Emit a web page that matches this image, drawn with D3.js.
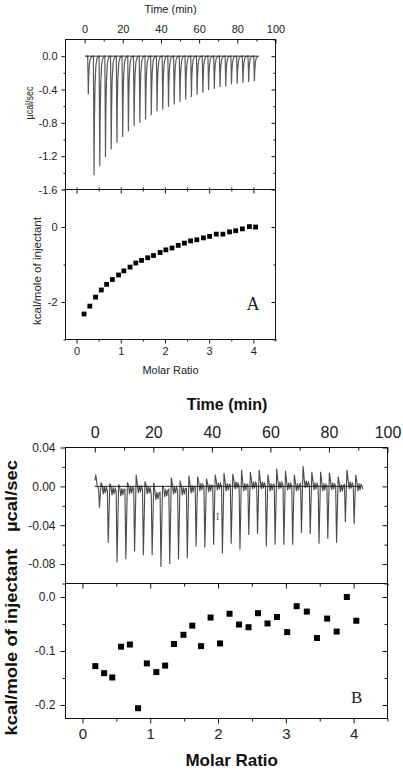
<!DOCTYPE html>
<html>
<head>
<meta charset="utf-8">
<script src="https://cdn.jsdelivr.net/npm/d3@7/dist/d3.min.js"></script>
<style>
  html, body { margin: 0; padding: 0; background: #fff; }
  svg { display: block; }
</style>
</head>
<body>
<script>
// ---------------- DATA ----------------
// Panel A – raw thermogram (injection times in min, peak depth in µcal/sec)
const aTimes = [1.6, 4.6, 7.6, 10.6, 13.6, 16.6, 19.6, 22.6, 25.6, 28.6, 31.6, 34.6, 37.6, 40.6, 43.6,
                46.6, 49.6, 52.6, 55.6, 58.6, 61.6, 64.6, 67.6, 70.6, 73.6, 76.6, 79.6, 82.6, 85.6, 88.6];
const aDepths = [-0.46, -1.43, -1.32, -1.21, -1.12, -1.04, -0.97, -0.90, -0.84, -0.80, -0.76, -0.71, -0.66, -0.64, -0.61,
                 -0.58, -0.55, -0.52, -0.49, -0.46, -0.44, -0.41, -0.39, -0.37, -0.36, -0.34, -0.33, -0.32, -0.31, -0.30];
// shape of one injection peak: [minutes after injection, fraction of depth]
const aPeakShape = [[0, 0], [0.2, 0.5], [0.35, 1], [0.55, 0.55], [0.85, 0.25], [1.3, 0.08], [1.9, 0.02], [2.7, 0]];
const aBaseline = [0.4, 91];

// Panel A – integrated heats
const aRatio = [0.17, 0.30, 0.43, 0.56, 0.68, 0.81, 0.95, 1.07, 1.21, 1.34, 1.47, 1.61, 1.74, 1.89, 2.02,
                2.16, 2.30, 2.44, 2.58, 2.72, 2.87, 3.01, 3.16, 3.31, 3.46, 3.60, 3.75, 3.91, 4.05];
const aHeat = [-2.32, -2.11, -1.87, -1.68, -1.53, -1.40, -1.28, -1.17, -1.07, -0.96, -0.89, -0.82, -0.76, -0.68, -0.61,
               -0.56, -0.49, -0.43, -0.37, -0.34, -0.29, -0.25, -0.19, -0.19, -0.13, -0.10, -0.05, 0.01, 0.00];

// Panel B – raw thermogram
const bTimes = [1.3, 4.3, 7.3, 10.3, 13.3, 16.3, 19.3, 22.3, 25.3, 28.3, 31.3, 34.3, 37.3, 40.3, 43.3,
                46.3, 49.3, 52.3, 55.3, 58.3, 61.3, 64.3, 67.3, 70.3, 73.3, 76.3, 79.3, 82.3, 85.3, 88.3];
const bDepth = [-0.022, -0.058, -0.078, -0.075, -0.067, -0.071, -0.071, -0.083, -0.080, -0.075, -0.074, -0.062, -0.063, -0.060, -0.069,
                -0.059, -0.065, -0.050, -0.049, -0.062, -0.060, -0.060, -0.060, -0.048, -0.049, -0.059, -0.054, -0.058, -0.037, -0.039];
const bPeak = [0.004, 0.003, 0.002, 0.004, 0.012, 0.005, 0.004, 0.000, 0.009, 0.006, 0.011, 0.010, 0.008, 0.012, 0.014,
               0.013, 0.017, 0.015, 0.017, 0.012, 0.018, 0.016, 0.012, 0.021, 0.015, 0.015, 0.014, 0.010, 0.017, 0.012];
const bLevel = [-0.003, -0.004, -0.005, -0.003, -0.002, -0.003, -0.009, -0.006, -0.003, -0.004, -0.002, 0.000, -0.001, 0.001, 0.000,
                0.002, 0.000, 0.002, 0.002, 0.000, 0.002, 0.001, 0.000, 0.003, 0.001, 0.000, 0.001, -0.001, 0.002, 0.000];
const bWiggle = [0.004, -0.005, 0.003, -0.004, 0.002];
const bLead = [[0.0, 0.006], [0.35, 0.012], [0.8, 0.001]];
const bTail = [[91.2, 0.001], [91.6, -0.003]];
const bBaseline = [0, 91];

// Panel B – integrated heats
const bRatio = [0.19, 0.32, 0.44, 0.57, 0.70, 0.82, 0.95, 1.09, 1.22, 1.35, 1.49, 1.62, 1.75, 1.89, 2.03,
                2.17, 2.31, 2.45, 2.59, 2.73, 2.87, 3.02, 3.16, 3.31, 3.46, 3.61, 3.75, 3.90, 4.04];
const bHeat = [-0.128, -0.141, -0.149, -0.092, -0.088, -0.206, -0.123, -0.139, -0.127, -0.087, -0.070, -0.053, -0.091, -0.038, -0.086,
               -0.031, -0.051, -0.056, -0.030, -0.049, -0.037, -0.065, -0.017, -0.027, -0.076, -0.040, -0.064, 0.000, -0.044];

// tick values
const timeTicks = [0, 20, 40, 60, 80, 100];
const timeMinor = [10, 30, 50, 70, 90];
const ratioTicks = [0, 1, 2, 3, 4];
const ratioMinor = [0.5, 1.5, 2.5, 3.5, 4.5];
const aRawTicks = [0.0, -0.4, -0.8, -1.2, -1.6];
const aRawMinor = [0.2, -0.2, -0.6, -1.0, -1.4];
const aHeatTicks = [0, -2];
const aHeatMinor = [1, -1, -3];
const bRawTicks = [0.04, 0.00, -0.04, -0.08];
const bRawMinor = [0.02, -0.02, -0.06, -0.10];
const bHeatTicks = [0.0, -0.1, -0.2];
const bHeatMinor = [-0.05, -0.15];

// ---------------- DRAWING ----------------
const FONT = "'Liberation Sans', Arial, Helvetica, sans-serif";
const SERIF = "'Liberation Serif', 'Times New Roman', serif";
const svg = d3.select("body").append("svg").attr("width", 403).attr("height", 773);
svg.append("rect").attr("width", 403).attr("height", 773).attr("fill", "#fff");

// scales
const xTA = d3.scaleLinear().domain([-10, 100]).range([65.5, 275.5]);
const yRA = d3.scaleLinear().domain([-1.6, 0.2]).range([189.5, 39.5]);
const xMA = d3.scaleLinear().domain([-0.25, 4.5]).range([65.5, 275.5]);
const yHA = d3.scaleLinear().domain([-3, 1]).range([339.5, 189.5]);

const xTB = d3.scaleLinear().domain([-10, 100]).range([65.5, 387.5]);
const yRB = d3.scaleLinear().domain([-0.1, 0.04]).range([583.5, 447.5]);
const xMB = d3.scaleLinear().domain([-0.25, 4.5]).range([65.5, 387.5]);
const yHB = d3.scaleLinear().domain([-0.225, 0.025]).range([718.5, 583.5]);

function drawAxis(gen, tx, ty, vals, size, fmt, fs, pad, bold) {
  gen.tickValues(vals).tickSizeInner(size).tickSizeOuter(0).tickPadding(pad).tickFormat(fmt || (() => ""));
  const g = svg.append("g").attr("transform", `translate(${tx},${ty})`).call(gen);
  g.select(".domain").remove();
  g.selectAll("line").attr("stroke", "#111").attr("stroke-width", 1);
  g.selectAll("text").attr("font-family", FONT).attr("font-size", fs || 10).attr("fill", "#222")
    .attr("font-weight", bold ? "bold" : null);
  return g;
}

// ---------- Panel A ----------
drawAxis(d3.axisTop(xTA), 0, yRA.range()[1], timeTicks, -4, d => d, 11, 7);
drawAxis(d3.axisTop(xTA), 0, yRA.range()[1], timeMinor, -2);
drawAxis(d3.axisLeft(yRA), xTA.range()[0], 0, aRawTicks, 4, d => d.toFixed(1), 11, 4);
drawAxis(d3.axisLeft(yRA), xTA.range()[0], 0, aRawMinor.filter(v => v > -1.6 && v < 0.2), 2);
drawAxis(d3.axisRight(yRA), xTA.range()[1], 0, aRawTicks, -4);
drawAxis(d3.axisRight(yRA), xTA.range()[1], 0, aRawMinor, -2);
drawAxis(d3.axisTop(xMA), 0, yHA.range()[1], ratioTicks, -4);
drawAxis(d3.axisTop(xMA), 0, yHA.range()[1], ratioMinor.slice(0, 4), -2);
drawAxis(d3.axisBottom(xMA), 0, yHA.range()[1], ratioTicks.concat(ratioMinor.slice(0, 4)), -2);
drawAxis(d3.axisLeft(yHA), xMA.range()[0], 0, aHeatTicks, 4, d => d.toFixed(0), 11, 4);
drawAxis(d3.axisLeft(yHA), xMA.range()[0], 0, aHeatMinor, 2);
drawAxis(d3.axisRight(yHA), xMA.range()[1], 0, aHeatTicks, -4);
drawAxis(d3.axisRight(yHA), xMA.range()[1], 0, aHeatMinor, -2);
drawAxis(d3.axisBottom(xMA), 0, yHA.range()[0], ratioTicks, 4, d => d, 11, 4);
drawAxis(d3.axisBottom(xMA), 0, yHA.range()[0], ratioMinor, 2);

svg.append("rect").attr("x", 65.5).attr("y", 39.5).attr("width", 210).attr("height", 150)
  .attr("fill", "none").attr("stroke", "#111");
svg.append("rect").attr("x", 65.5).attr("y", 189.5).attr("width", 210).attr("height", 150)
  .attr("fill", "none").attr("stroke", "#111");

// raw trace A
const aTrace = [[aBaseline[0], 0]];
aTimes.forEach((t, i) => aPeakShape.forEach(([dt, f]) => aTrace.push([t + dt, aDepths[i] * f])));
aTrace.push([aBaseline[1], 0]);
svg.append("path").datum(aTrace)
  .attr("d", d3.line().x(d => xTA(d[0])).y(d => yRA(d[1])))
  .attr("fill", "none").attr("stroke", "#5a5a5a").attr("stroke-width", 1.2);
svg.append("line").attr("x1", xTA(aBaseline[0])).attr("x2", xTA(aBaseline[1]))
  .attr("y1", yRA(0)).attr("y2", yRA(0)).attr("stroke", "#333").attr("stroke-width", 1);

// heats A
svg.append("g").selectAll("rect").data(aRatio).join("rect")
  .attr("x", (d) => xMA(d) - 2.4).attr("y", (d, i) => yHA(aHeat[i]) - 2.4)
  .attr("width", 4.8).attr("height", 4.8).attr("fill", "#000");

// labels A
svg.append("text").attr("x", 170.5).attr("y", 8.5).attr("text-anchor", "middle").attr("dominant-baseline", "central")
  .attr("font-family", FONT).attr("font-size", 11).attr("fill", "#222").text("Time (min)");
svg.append("text").attr("x", 170.5).attr("y", 370).attr("text-anchor", "middle").attr("dominant-baseline", "central")
  .attr("font-family", FONT).attr("font-size", 11).attr("fill", "#222").text("Molar Ratio");
svg.append("text").attr("transform", "translate(29,103) rotate(-90)").attr("text-anchor", "middle")
  .attr("dominant-baseline", "central").attr("font-family", FONT).attr("font-size", 11).attr("fill", "#222")
  .attr("textLength", 33).attr("lengthAdjust", "spacingAndGlyphs").text("µcal/sec");
svg.append("text").attr("transform", "translate(37,271) rotate(-90)").attr("text-anchor", "middle")
  .attr("dominant-baseline", "central").attr("font-family", FONT).attr("font-size", 11).attr("fill", "#222")
  .attr("textLength", 108).attr("lengthAdjust", "spacingAndGlyphs").text("kcal/mole of injectant");
svg.append("text").attr("x", 253).attr("y", 310).attr("text-anchor", "middle")
  .attr("font-family", SERIF).attr("font-size", 18).attr("fill", "#222").text("A");

// ---------- Panel B ----------
drawAxis(d3.axisTop(xTB), 0, yRB.range()[1], timeTicks, -5, d => d, 16, 10);
drawAxis(d3.axisTop(xTB), 0, yRB.range()[1], timeMinor, -3);
drawAxis(d3.axisLeft(yRB), xTB.range()[0], 0, bRawTicks, 5, d => d.toFixed(2), 12, 5);
drawAxis(d3.axisLeft(yRB), xTB.range()[0], 0, bRawMinor, 3);
drawAxis(d3.axisRight(yRB), xTB.range()[1], 0, bRawTicks, -5);
drawAxis(d3.axisRight(yRB), xTB.range()[1], 0, bRawMinor, -3);
drawAxis(d3.axisTop(xMB), 0, yHB.range()[1], ratioTicks, -5);
drawAxis(d3.axisTop(xMB), 0, yHB.range()[1], ratioMinor, -3);
drawAxis(d3.axisLeft(yHB), xMB.range()[0], 0, bHeatTicks, 5, d => d.toFixed(1), 12, 5);
drawAxis(d3.axisLeft(yHB), xMB.range()[0], 0, bHeatMinor, 3);
drawAxis(d3.axisRight(yHB), xMB.range()[1], 0, bHeatTicks, -5);
drawAxis(d3.axisRight(yHB), xMB.range()[1], 0, bHeatMinor, -3);
drawAxis(d3.axisBottom(xMB), 0, yHB.range()[0], ratioTicks, 5, d => d, 15, 5);
drawAxis(d3.axisBottom(xMB), 0, yHB.range()[0], ratioMinor, 3);

svg.append("rect").attr("x", 65.5).attr("y", 447.5).attr("width", 322).attr("height", 136)
  .attr("fill", "none").attr("stroke", "#111");
svg.append("rect").attr("x", 65.5).attr("y", 583.5).attr("width", 322).attr("height", 135)
  .attr("fill", "none").attr("stroke", "#111");

// raw trace B
const bOffsets = [0.3, 0.85, 1.25, 1.6, 1.95, 2.3, 2.65];
const bTrace = bLead.slice();
bTimes.forEach((t, i) => {
  bTrace.push([t, bLevel[i]]);
  bTrace.push([t + bOffsets[0], bDepth[i]]);
  bTrace.push([t + bOffsets[1], bPeak[i]]);
  bWiggle.forEach((w, k) => bTrace.push([t + bOffsets[k + 2], bLevel[i] + w]));
});
bTail.forEach(p => bTrace.push(p));
svg.append("path").datum(bTrace)
  .attr("d", d3.line().x(d => xTB(d[0])).y(d => yRB(d[1])))
  .attr("fill", "none").attr("stroke", "#4a4a4a").attr("stroke-width", 1.1);
svg.append("line").attr("x1", xTB(bBaseline[0])).attr("x2", xTB(bBaseline[1]))
  .attr("y1", yRB(0)).attr("y2", yRB(0)).attr("stroke", "#222").attr("stroke-width", 1);
svg.append("text").attr("x", 217.7).attr("y", 520).attr("text-anchor", "middle")
  .attr("font-family", SERIF).attr("font-size", 11).attr("fill", "#666").text("I");

// heats B
svg.append("g").selectAll("rect").data(bRatio).join("rect")
  .attr("x", d => xMB(d) - 3).attr("y", (d, i) => yHB(bHeat[i]) - 3)
  .attr("width", 6).attr("height", 6).attr("fill", "#000");

// labels B
svg.append("text").attr("x", 227).attr("y", 404).attr("text-anchor", "middle").attr("dominant-baseline", "central")
  .attr("font-family", FONT).attr("font-weight", "bold").attr("font-size", 16).attr("fill", "#111").text("Time (min)");
svg.append("text").attr("x", 231.7).attr("y", 760).attr("text-anchor", "middle").attr("dominant-baseline", "central")
  .attr("font-family", FONT).attr("font-weight", "bold").attr("font-size", 17).attr("fill", "#111").text("Molar Ratio");
svg.append("text").attr("transform", "translate(11,496) rotate(-90)").attr("text-anchor", "middle")
  .attr("dominant-baseline", "central").attr("font-family", FONT).attr("font-weight", "bold").attr("font-size", 16)
  .attr("fill", "#111").attr("textLength", 72).attr("lengthAdjust", "spacingAndGlyphs").text("µcal/sec");
svg.append("text").attr("transform", "translate(11,642) rotate(-90)").attr("text-anchor", "middle")
  .attr("dominant-baseline", "central").attr("font-family", FONT).attr("font-weight", "bold").attr("font-size", 16)
  .attr("fill", "#111").attr("textLength", 187).attr("lengthAdjust", "spacingAndGlyphs").text("kcal/mole of injectant");
svg.append("text").attr("x", 356.7).attr("y", 703).attr("text-anchor", "middle")
  .attr("font-family", SERIF).attr("font-size", 17).attr("fill", "#222").text("B");
</script>
</body>
</html>
